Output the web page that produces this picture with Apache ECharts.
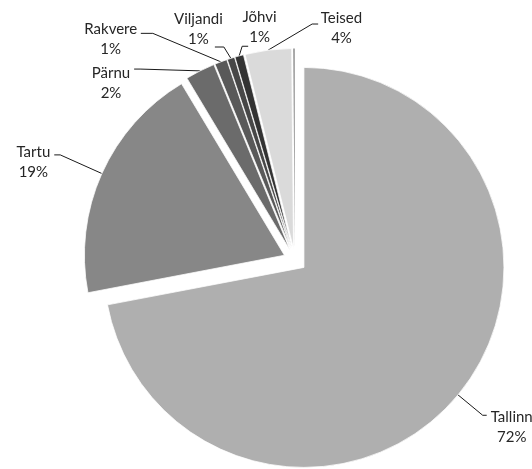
<!DOCTYPE html>
<html><head><meta charset="utf-8">
<script src="https://cdn.jsdelivr.net/npm/echarts@6/dist/echarts.min.js"></script>
<style>html,body{margin:0;padding:0;background:#fff}#c{width:532px;height:469px}</style>
</head><body><div id="c"></div>
<script>
var categories = ['Tallinn', 'Tartu', 'Pärnu', 'Rakvere', 'Viljandi', 'Jõhvi', 'Teised', ''];
var values = [72.0, 19.4, 2.4, 1.0, 0.6, 0.7, 3.75, 0.15];
var colors = ['#afafaf', '#878787', '#6b6b6b', '#595959', '#474747', '#333333', '#dadada', '#a3a3a3'];

// label-line styling per slice (not data)
var lineLen = [32, 45.6, 2, 30.4, 11.9, 10, 26.3, 0];
var lineLen2 = [4, 6, 65, 69, 0.5, 0, 0, 0];
var labelPad = [[24,0,0,0],[14,0,0,0],[28,0,0,0],[11,0,0,0],[0,0,36,0],[0,0,38,10],[9,0,0,60],[0,0,0,0]];
// leader shape: [diagonal run, horizontal run]; null keeps the default leader
var leaderShape = [null, null, [-60, -6], [-68, -12], [-7, -9], [3, 6], [44, 6], null];
// labels that sit on the other side of their leader
var flipSide = [false, false, false, false, false, true, true, false];
var OFFSET = 11.6;
var FONT = 'Lato';

var chart = echarts.init(document.getElementById('c'), null, {renderer: 'canvas'});
chart.setOption({
  backgroundColor: '#ffffff',
  animation: false,
  series: [{
    type: 'pie',
    center: [295, 260],
    radius: 200,
    startAngle: 90,
    clockwise: true,
    selectedMode: 'multiple',
    selectedOffset: OFFSET,
    avoidLabelOverlap: false,
    minShowLabelAngle: 0,
    emphasis: {disabled: true},
    itemStyle: {borderColor: '#ffffff', borderWidth: 0.75},
    label: {
      show: true,
      position: 'outside',
      distanceToLabelLine: 4,
      formatter: function (p) {
        return '{t|' + p.name + '}\n{t|' + Math.round(p.percent) + '%}';
      },
      rich: {t: {align: 'center', fontFamily: FONT, fontSize: 15, lineHeight: 20, color: '#262626'}}
    },
    labelLine: {show: true, lineStyle: {color: '#1a1a1a', width: 1}},
    labelLayout: function (p) {
      var f = leaderShape[p.dataIndex];
      if (!f || !p.labelLinePoints) return {};
      var pts = p.labelLinePoints;
      var a = pts[0], b = pts[1];
      var p1 = [a[0] + f[0], b[1]];
      var p2 = [p1[0] + f[1], b[1]];
      var out = {labelLinePoints: [a, p1, p2]};
      if (flipSide[p.dataIndex]) out.align = 'left';
      return out;
    },
    data: categories.map(function (name, i) {
      return {
        name: name,
        value: values[i],
        selected: true,
        itemStyle: {color: colors[i], borderWidth: name ? 0.75 : 0},
        label: {show: !!name, padding: labelPad[i]},
        labelLine: {show: !!name, length: lineLen[i], length2: lineLen2[i]}
      };
    })
  }]
});
</script>
</body></html>
